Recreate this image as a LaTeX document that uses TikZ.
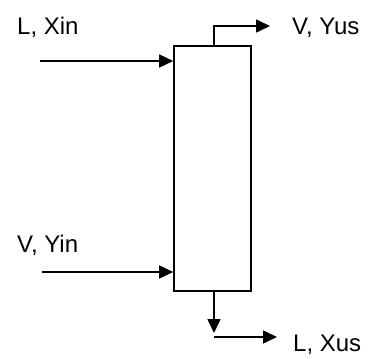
\documentclass[tikz,border=0pt]{standalone}
\usepackage{fontspec}
\setmainfont{Liberation Sans}
\usetikzlibrary{arrows.meta}

\begin{document}
\begin{tikzpicture}[x=1pt, y=-1pt, >={Triangle[length=14pt, width=13pt]},
  flow/.style={line width=1.6pt},
  label/.style={anchor=base west, inner sep=0pt, font=\fontsize{24}{28}\selectfont},
  column/.style={draw, line width=1.6pt, minimum width=77pt, minimum height=245pt, inner sep=0pt}]
  \useasboundingbox (0,0) rectangle (378,359);

  % Column
  \node[column] (col) at (212.5,168.5) {};

  % Labels
  \node[label] (lin) at (17,34) {L, Xin};
  \node[label] (vout) at (292,34) {V, Yus};
  \node[label] (vin) at (17,252) {V, Yin};
  \node[label] (lout) at (293,351) {L, Xus};

  % Stream ends
  \coordinate (linstart) at (40,61);
  \coordinate (vinstart) at (42,272);
  \coordinate (topout) at (214,46);
  \coordinate (topend) at (270,26);
  \coordinate (botout) at (214,291);
  \coordinate (botdown) at (214,333);
  \coordinate (botstart) at (214,337);
  \coordinate (botend) at (277,337);

  % Streams
  \draw[flow, ->] (linstart) -- (linstart -| col.west);
  \draw[flow, ->] (vinstart) -- (vinstart -| col.west);
  \draw[flow, ->] (topout) |- (topend);
  \draw[flow, ->] (botout) -- (botdown);
  \draw[flow, ->] (botstart) -- (botend);
\end{tikzpicture}
\end{document}
